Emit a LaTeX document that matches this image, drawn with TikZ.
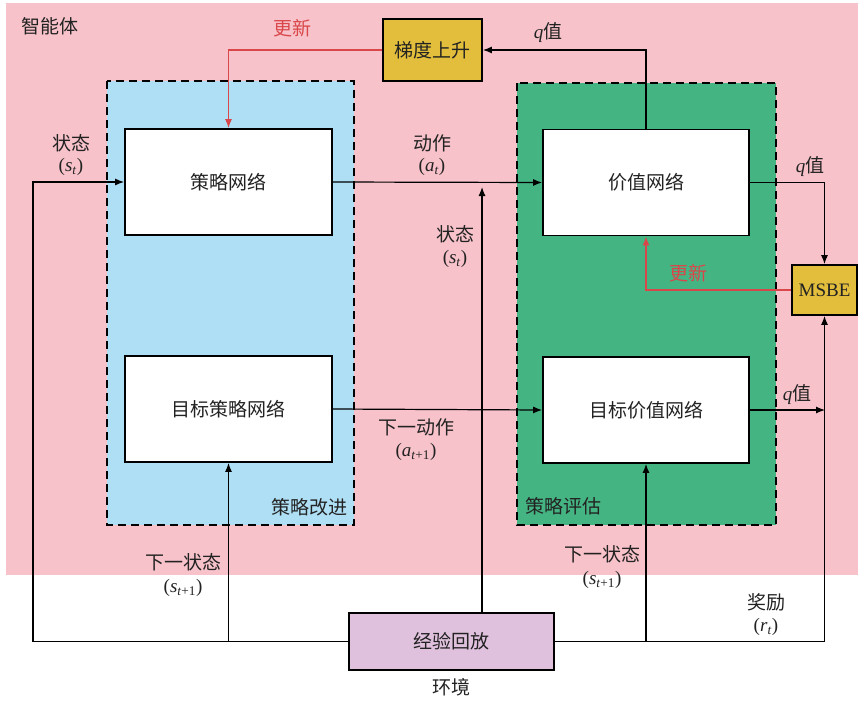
\documentclass[tikz,border=0pt]{standalone}
\usepackage{fontspec}
\setmainfont{Liberation Serif}
\newfontfamily\cjk{Noto Sans CJK SC}
\usetikzlibrary{arrows.meta}
\definecolor{bgpink}{HTML}{F7C2C9}
\definecolor{blueb}{HTML}{AEDFF5}
\definecolor{greenb}{HTML}{45B483}
\definecolor{goldb}{HTML}{E2BE3C}
\definecolor{purpb}{HTML}{E0C1DD}
\definecolor{redl}{HTML}{D9474A}
\definecolor{txt}{HTML}{222222}
\newcommand{\iv}[2]{(\textit{#1}\textsubscript{#2})}
\begin{document}
\begin{tikzpicture}[x=1pt,y=-1pt,
  every node/.style={font=\fontsize{19}{22}\selectfont, text=txt},
  netbox/.style={draw=black, line width=1.8pt, fill=white, minimum width=207pt, minimum height=106pt, inner sep=0pt},
  goldbox/.style={draw=black, line width=1.8pt, fill=goldb, inner sep=0pt},
  zone/.style={draw=black, line width=1.8pt, dash pattern=on 8pt off 5pt},
  arr/.style={line width=1.2pt, -{Latex[length=9pt,width=7pt]}},
  redarr/.style={line width=1.2pt, draw=redl, -{Latex[length=9pt,width=7pt]}},
  lbl/.style={align=center, inner sep=0pt}
]
\useasboundingbox (0,0) rectangle (858,701);
\fill[bgpink] (6,3) rectangle (858,575);
\node[lbl] (agent) at (50,26) {\cjk 智能体};

\draw[zone, fill=blueb] (107,81) rectangle (354,525);
\draw[zone, fill=greenb] (517,83) rectangle (776,525);
\node[lbl] (pimp) at (309,507) {\cjk 策略改进};
\node[lbl] (peval) at (563,506) {\cjk 策略评估};

\node[netbox] (pol) at (228.5,182) {\cjk 策略网络};
\node[netbox] (tpol) at (228.5,409) {\cjk 目标策略网络};
\node[netbox, minimum width=206pt] (val) at (646,182.5) {\cjk 价值网络};
\node[netbox, minimum width=206pt] (tval) at (646,410) {\cjk 目标价值网络};
\node[goldbox, minimum width=99pt, minimum height=62pt] (grad) at (432.5,50) {\cjk 梯度上升};
\node[goldbox, minimum width=65pt, minimum height=50pt] (msbe) at (824.5,290) {MSBE};
\node[draw=black, line width=1.8pt, fill=purpb, minimum width=205pt, minimum height=57pt, inner sep=0pt] (rep) at (451.5,641.5) {\cjk 经验回放};
\node[lbl] (env) at (451,687) {\cjk 环境};

\coordinate (lc) at (33,641.5);
\coordinate (sbot) at (482,613);
\coordinate (stop) at (482,187);
\coordinate (tq) at (825,410);

% connectors
\draw[arr] (rep.west) -- (lc) |- (pol.west);
\draw[arr] (tpol.south |- rep.west) -- (tpol.south);
\draw[arr] (sbot) -- (stop);
\draw[arr] (pol.east) -- (val.west);
\draw[arr] (tpol.east) -- (tval.west);
\draw[arr] (val.north) |- (grad.east);
\draw[arr] (val.east) -| (msbe.north);
\draw[arr] (tval.east) -- (tq);
\draw[arr] (rep.east) -| (msbe.south);
\draw[arr] (tval.south |- rep.east) -- (tval.south);
\draw[redarr] (grad.west) -| (pol.north);
\draw[redarr] (msbe.west) -| (val.south);

% labels
\node[lbl] at (71,143) {\cjk 状态};
\node[lbl] at (71,167) {\iv{s}{\textit{t}}};
\node[lbl] at (432,143) {\cjk 动作};
\node[lbl] at (432,167) {\iv{a}{\textit{t}}};
\node[lbl] at (455,234) {\cjk 状态};
\node[lbl] at (455,259) {\iv{s}{\textit{t}}};
\node[lbl] at (416,427) {\cjk 下一动作};
\node[lbl] at (416,452) {\iv{a}{\textit{t}+1}};
\node[lbl] at (548,33) {\textit{q}\cjk 值};
\node[lbl] at (810,167) {\textit{q}\cjk 值};
\node[lbl] at (797,395) {\textit{q}\cjk 值};
\node[lbl, text=redl] at (292,28) {\cjk 更新};
\node[lbl, text=redl] at (688,273) {\cjk 更新};
\node[lbl] at (183,562) {\cjk 下一状态};
\node[lbl] at (183,588) {\iv{s}{\textit{t}+1}};
\node[lbl] at (602,554) {\cjk 下一状态};
\node[lbl] at (602,580) {\iv{s}{\textit{t}+1}};
\node[lbl] at (766,602) {\cjk 奖励};
\node[lbl] at (766,627) {\iv{r}{\textit{t}}};
\end{tikzpicture}
\end{document}
